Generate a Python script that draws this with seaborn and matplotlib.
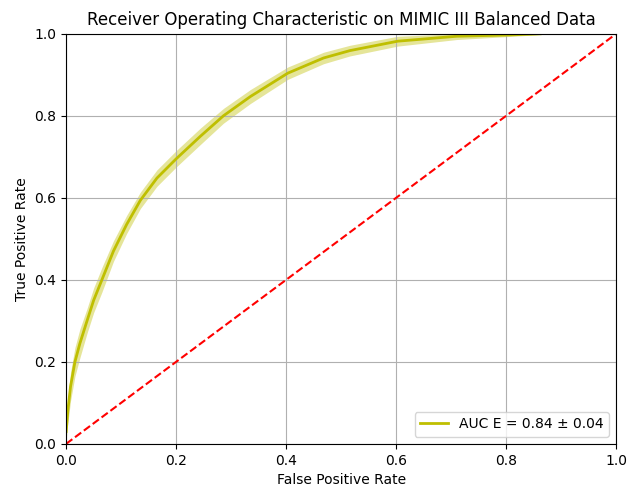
import numpy as np
import pandas as pd
import matplotlib.pyplot as plt
import seaborn as sns

# mean ROC curve
fpr = [0.0, 0.003, 0.008, 0.016, 0.025, 0.038, 0.05, 0.065, 0.086, 0.11, 0.135,
       0.165, 0.2, 0.244, 0.286, 0.335, 0.403, 0.468, 0.516, 0.603, 0.71, 0.8, 0.862]
tpr = [0.03, 0.08, 0.14, 0.2, 0.245, 0.30, 0.35, 0.40, 0.47, 0.535, 0.594,
       0.648, 0.695, 0.75, 0.8, 0.847, 0.904, 0.941, 0.959, 0.982, 0.994, 0.997, 1.0]
tpr_std = [0.02, 0.03, 0.035, 0.035, 0.035, 0.03, 0.03, 0.03, 0.025, 0.022, 0.02,
           0.02, 0.02, 0.02, 0.018, 0.017, 0.015, 0.014, 0.013, 0.012, 0.008, 0.004, 0.002]
chance = [0.0, 1.0]
label = 'AUC E = 0.84 ± 0.04'

df = pd.DataFrame({'fpr': fpr, 'tpr': tpr, 'std': tpr_std})
upper = np.minimum(df['tpr'] + df['std'], 1)
lower = np.maximum(df['tpr'] - df['std'], 0)

fig, ax = plt.subplots(figsize=(6.3, 4.97), dpi=100)
fig.subplots_adjust(left=0.105, right=0.978, top=0.932, bottom=0.107)
ax.fill_between(df['fpr'], lower, upper, color='y', alpha=0.4, lw=0)
sns.lineplot(data=df, x='fpr', y='tpr', color='y', lw=2, label=label, ax=ax, sort=False)
sns.lineplot(x=chance, y=chance, color='r', linestyle='--', lw=1.5, ax=ax)
ax.set_xlim(0, 1)
ax.set_ylim(0, 1)
ax.set_title('Receiver Operating Characteristic on MIMIC III Balanced Data')
ax.set_xlabel('False Positive Rate')
ax.set_ylabel('True Positive Rate')
ax.grid(True)
ax.legend(loc='lower right')
fig.savefig('out.png')
